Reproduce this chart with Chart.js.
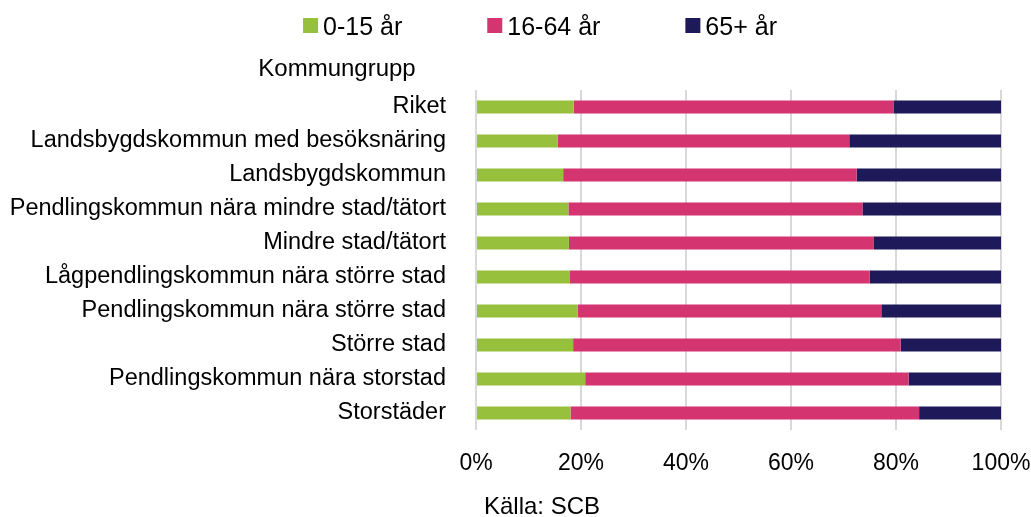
<!DOCTYPE html>
<html>
<head>
<meta charset="utf-8">
<script src="https://cdn.jsdelivr.net/npm/chart.js@4"></script>
<style>
  html, body { margin: 0; padding: 0; background: #fff; overflow: hidden; }
  canvas { display: block; }
</style>
</head>
<body>
<canvas id="ageChart" width="1031" height="517"></canvas>
<script>
// Befolkning efter ålder per kommungrupp (andel, %)
const categories = [
    'Riket',
    'Landsbygdskommun med besöksnäring',
    'Landsbygdskommun',
    'Pendlingskommun nära mindre stad/tätort',
    'Mindre stad/tätort',
    'Lågpendlingskommun nära större stad',
    'Pendlingskommun nära större stad',
    'Större stad',
    'Pendlingskommun nära storstad',
    'Storstäder'
];
const seriesNames = ['0-15 år', '16-64 år', '65+ år'];
const age0to15 = [18.6, 15.6, 16.6, 17.6, 17.7, 17.9, 19.4, 18.5, 20.8, 18.0];
const age16to64 = [60.9, 55.5, 55.9, 56.0, 58.1, 57.1, 57.8, 62.4, 61.6, 66.4];
const age65plus = [20.5, 28.9, 27.5, 26.4, 24.2, 25.0, 22.8, 19.1, 17.6, 15.6];
const xTickLabels = ['0%', '20%', '40%', '60%', '80%', '100%'];
const axisTitle = 'Kommungrupp';
const sourceText = 'Källa: SCB';

const colors = ['#97c13c', '#d43571', '#1e1a5a'];
const FONT = '"Liberation Sans", Arial, sans-serif';

// legend, "Kommungrupp" and source line drawn by hand so spacing matches the original
const legendAndTitle = {
    id: 'legendAndTitle',
    afterDraw(chart) {
        const ctx = chart.ctx;
        const area = chart.chartArea;
        ctx.save();
        ctx.font = '25px ' + FONT;
        ctx.textBaseline = 'alphabetic';
        const box = 15, gap = 5, spacing = 85;
        const items = chart.data.datasets.map(ds => ({
            label: ds.label,
            color: ds.backgroundColor,
            w: box + gap + ctx.measureText(ds.label).width
        }));
        const total = items.reduce((s, it) => s + it.w, 0) + spacing * (items.length - 1);
        let x = 540 - total / 2;
        items.forEach(it => {
            ctx.fillStyle = it.color;
            ctx.fillRect(x, 18, box, box);
            ctx.fillStyle = '#000';
            ctx.textAlign = 'left';
            ctx.fillText(it.label, x + box + gap, 35);
            x += it.w + spacing;
        });

        ctx.font = '24px ' + FONT;
        ctx.textAlign = 'center';
        ctx.fillText(axisTitle, 337, 76);

        ctx.textAlign = 'left';
        ctx.fillText(sourceText, area.left + 8, 514);
        ctx.restore();
    }
};

const ctx = document.getElementById('ageChart').getContext('2d');
const ageChart = new Chart(ctx, {
    type: 'bar',
    data: {
        labels: categories,
        datasets: [age0to15, age16to64, age65plus].map((vals, i) => ({
            label: seriesNames[i],
            data: vals,
            backgroundColor: colors[i],
            borderWidth: 0,
            barPercentage: 0.38,
            categoryPercentage: 1
        }))
    },
    options: {
        indexAxis: 'y',
        responsive: false,
        animation: false,
        layout: { padding: { top: 90, right: 30, left: 0, bottom: 0 } },
        scales: {
            x: {
                stacked: true,
                min: 0,
                max: 100,
                ticks: {
                    stepSize: 20,
                    color: '#000',
                    font: { family: FONT, size: 23 },
                    padding: 20,
                    callback: (v) => xTickLabels[v / 20]
                },
                grid: { color: '#d9d9d9', lineWidth: 2, drawTicks: false },
                border: { display: false },
                afterFit(scale) {
                    scale.height = 87;
                    scale.paddingLeft = 0;
                    scale.paddingRight = 30;
                }
            },
            y: {
                stacked: true,
                grid: { display: false },
                border: { display: false },
                ticks: {
                    color: '#000',
                    font: { family: FONT, size: 23.5 },
                    padding: 22
                },
                afterFit(scale) { scale.width = 476; }
            }
        },
        plugins: {
            legend: { display: false },
            tooltip: { enabled: false }
        }
    },
    plugins: [legendAndTitle]
});
</script>
</body>
</html>
